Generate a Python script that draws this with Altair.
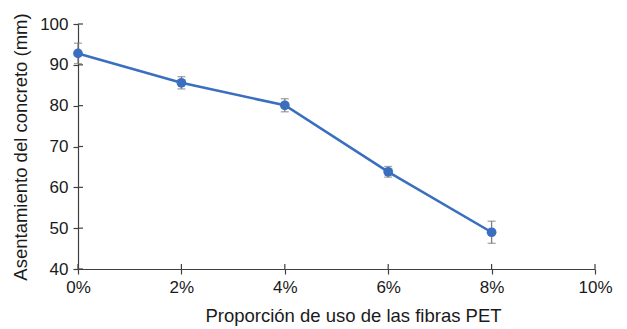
import altair as alt
import pandas as pd

# Slump of concrete vs. PET fibre proportion
proportion = [0, 2, 4, 6, 8]
slump = [92.8, 85.6, 80.1, 63.8, 49.0]
err = [2.5, 1.5, 1.6, 1.3, 2.7]

x_ticks = [0, 2, 4, 6, 8, 10]
y_ticks = [40, 50, 60, 70, 80, 90, 100]

df = pd.DataFrame({"p": proportion, "s": slump, "e": err})
df["lo"] = df["s"] - df["e"]
df["hi"] = df["s"] + df["e"]

W, H = 517, 245
BLUE = "#3a6fc0"
AXIS = "#404040"
TEXT = "#1a1a1a"
FONT = "Liberation Sans"

x_scale = alt.Scale(domain=[0, 10], nice=False, zero=False)
y_scale = alt.Scale(domain=[40, 100], nice=False, zero=False)

x_axis = alt.Axis(
    values=x_ticks, labelExpr="datum.value + '%'", grid=False,
    labelFlush=False, labelOverlap=False,
    title="Proporción de uso de las fibras PET",
    domainColor=AXIS, tickColor=AXIS, tickSize=5, domainWidth=1.2, tickWidth=1.2,
    labelFont=FONT, labelFontSize=17, labelColor=TEXT, labelPadding=5,
    titleFont=FONT, titleFontSize=18.5, titleFontWeight="normal", titleColor=TEXT,
    titlePadding=11, titleX=275,
)
y_axis = alt.Axis(
    values=y_ticks, grid=False, labelFlush=False, labelOverlap=False,
    title="Asentamiento del concreto (mm)",
    domainColor=AXIS, tickColor=AXIS, tickSize=5, domainWidth=1.2, tickWidth=1.2,
    labelFont=FONT, labelFontSize=17, labelColor=TEXT, labelPadding=5,
    titleFont=FONT, titleFontSize=18.5, titleFontWeight="normal", titleColor=TEXT,
    titlePadding=9,
)

base = alt.Chart(df)

line = base.mark_line(color=BLUE, strokeWidth=2.6).encode(
    x=alt.X("p:Q", scale=x_scale, axis=x_axis),
    y=alt.Y("s:Q", scale=y_scale, axis=y_axis),
)

bars = base.mark_rule(color="#7f7f7f", strokeWidth=1.3).encode(
    x=alt.X("p:Q", scale=x_scale),
    y=alt.Y("lo:Q", scale=y_scale),
    y2="hi:Q",
)
cap_lo = base.mark_tick(color="#7f7f7f", orient="horizontal", size=8, thickness=1.3).encode(
    x=alt.X("p:Q", scale=x_scale), y=alt.Y("lo:Q", scale=y_scale)
)
cap_hi = base.mark_tick(color="#7f7f7f", orient="horizontal", size=8, thickness=1.3).encode(
    x=alt.X("p:Q", scale=x_scale), y=alt.Y("hi:Q", scale=y_scale)
)

points = base.mark_circle(color=BLUE, size=95, opacity=1).encode(
    x=alt.X("p:Q", scale=x_scale), y=alt.Y("s:Q", scale=y_scale)
)

# inner halves of the crossing axis ticks
xt = pd.DataFrame({"t": x_ticks})
yt = pd.DataFrame({"t": y_ticks})
x_inner = alt.Chart(xt).mark_rule(color=AXIS, strokeWidth=1.2).encode(
    x=alt.X("t:Q", scale=x_scale), y=alt.value(H), y2=alt.value(H - 5)
)
y_inner = alt.Chart(yt).mark_rule(color=AXIS, strokeWidth=1.2).encode(
    y=alt.Y("t:Q", scale=y_scale), x=alt.value(0), x2=alt.value(5)
)

chart = (
    alt.layer(x_inner, y_inner, line, bars, cap_lo, cap_hi, points)
    .properties(
        width=W, height=H,
        autosize=alt.AutoSizeParams(type="none"),
        padding={"left": 78, "top": 24, "right": 32, "bottom": 60},
    )
    .configure(background="white", view=alt.ViewConfig(stroke=None))
)

chart.save("out.html", embed_options={"renderer": "svg", "actions": False})
